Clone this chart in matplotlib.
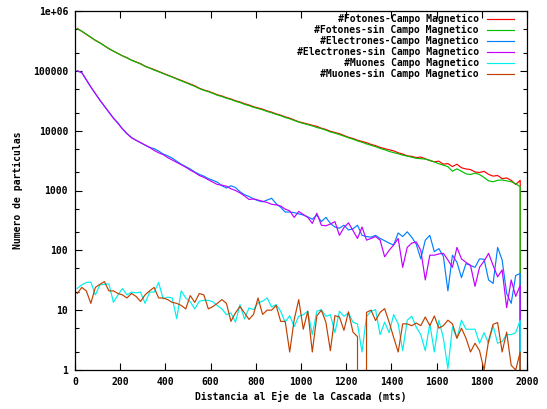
import numpy as np
import matplotlib
matplotlib.use("Agg")
import matplotlib.pyplot as plt
from matplotlib.ticker import FixedLocator, FixedFormatter, NullFormatter
from matplotlib.lines import Line2D

# distancia al eje (mts), centro de cada bin; el ultimo punto vale 0
distancia = list(range(10, 2000, 20))

fotones_campo = [
    513000, 457000, 407000, 363000, 324000, 295000, 263000, 234000, 214000, 195000,
    178000, 166000, 151000, 141000, 132000, 120000, 112000, 105000, 97700, 91200,
    85100, 79400, 74100, 69200, 64600, 60300, 56200, 51300, 47900, 45700,
    42700, 39800, 38000, 35500, 33900, 31600, 30200, 28200, 26900, 25100,
    24000, 22900, 21400, 20400, 19100, 18200, 17000, 16200, 15100, 14100,
    13500, 12900, 12300, 11800, 11000, 10500, 9770, 9330, 8910, 8320,
    7760, 7410, 6920, 6610, 6300, 5890, 5620, 5250, 5010, 4790,
    4600, 4270, 4070, 3800, 3720, 3550, 3630, 3390, 3160, 3020,
    3090, 2750, 2820, 2510, 2750, 2400, 2290, 2240, 2040, 2000,
    2090, 1860, 1740, 1780, 1580, 1620, 1480, 1260, 1480, 0]

fotones_sin_campo = [
    505000, 460000, 410000, 365000, 322000, 292000, 262000, 236000, 213000, 194000,
    178000, 164000, 150000, 140000, 130000, 119000, 111000, 103000, 96500, 90000,
    84000, 78500, 73000, 68000, 63500, 59000, 55000, 50500, 47200, 44800,
    42000, 39000, 37200, 34800, 33200, 31000, 29500, 27500, 26200, 24500,
    23400, 22300, 20900, 19900, 18700, 17800, 16600, 15800, 14800, 13900,
    13200, 12600, 12000, 11300, 10800, 10200, 9500, 9100, 8600, 8100,
    7600, 7200, 6750, 6400, 6000, 5700, 5400, 5050, 4800, 4500,
    4300, 4100, 3900, 3750, 3600, 3450, 3400, 3350, 3200, 3000,
    2800, 2650, 2500, 2100, 2300, 2100, 1900, 1850, 1950, 1850,
    1650, 1450, 1400, 1480, 1500, 1450, 1400, 1300, 1150, 0]

electrones_campo = [
    100000, 93300, 70800, 53700, 41700, 32400, 25700, 20400, 16200, 13500,
    10700, 8910, 7700, 6920, 6310, 5750, 5250, 5010, 4570, 4070,
    3800, 3470, 3090, 2750, 2510, 2290, 2040, 1860, 1740, 1580,
    1480, 1380, 1200, 1100, 1200, 1120, 955, 851, 794, 724,
    676, 646, 692, 741, 603, 525, 437, 437, 427, 407,
    389, 363, 331, 389, 302, 355, 282, 245, 234, 263,
    219, 229, 263, 178, 170, 166, 178, 158, 145, 132,
    123, 195, 170, 204, 166, 126, 72, 148, 178, 95,
    107, 79, 21, 83, 63, 35, 60, 56, 52, 72,
    71, 32, 28, 112, 69, 19, 13, 38, 41, 0]

electrones_sin_campo = [
    100000, 93300, 70800, 53700, 41700, 32400, 25700, 20400, 16200, 13200,
    10700, 8910, 7590, 6920, 6310, 5750, 5250, 4680, 4270, 3980,
    3550, 3240, 2950, 2690, 2450, 2190, 2000, 1780, 1660, 1510,
    1380, 1260, 1230, 1180, 1070, 1000, 912, 813, 708, 724,
    692, 661, 631, 589, 575, 550, 490, 457, 355, 447,
    398, 355, 282, 417, 263, 257, 275, 302, 178, 240,
    288, 214, 158, 245, 148, 158, 170, 148, 78, 100,
    123, 158, 52, 112, 132, 138, 100, 32, 83, 83,
    87, 89, 69, 52, 112, 72, 63, 56, 25, 52,
    66, 89, 56, 36, 47, 11, 32, 17, 26, 0]

muones_campo = [
    23, 26.5, 29, 29.5, 18, 26.5, 27, 27.5, 13.5, 18,
    23, 18, 20, 19.5, 20, 13, 20, 20, 29, 15.5,
    16.5, 16, 7.2, 21, 16, 13.8, 10.5, 14.1, 14.6, 14.6,
    13.8, 11.9, 10.5, 8.4, 9, 6.3, 12.4, 7.1, 10.9, 10.2,
    13.2, 14.1, 16.1, 11.3, 12.4, 9.6, 6.3, 8.1, 5.3, 7.9,
    8.4, 9.6, 3.9, 9.6, 10.2, 7.9, 8.4, 4.2, 9.6, 7.9,
    9, 6.3, 5.9, 2, 7.9, 9.6, 10.2, 3.9, 6.3, 4.2,
    8.4, 5.9, 2.1, 6.8, 7.9, 5.2, 3.9, 2.1, 5.9, 2,
    6.8, 3.4, 1.05, 5.2, 3.4, 6.8, 4.8, 4.8, 4.8, 2.8,
    4.2, 2.8, 5.5, 2.8, 3, 3.9, 3.9, 4.2, 6.8, 0]

muones_sin_campo = [
    19, 24, 21, 13, 24, 27, 30, 21, 21, 19,
    18, 16, 19, 17, 14, 18, 21, 24, 16, 16,
    15, 13.5, 13, 12, 10.5, 17.5, 13.5, 19, 18, 10.5,
    11.5, 13, 15, 13, 6.5, 9, 11.5, 9, 7, 8.5,
    16, 8.5, 10, 10, 12, 6.5, 6.5, 2, 7, 15,
    4.8, 9.6, 2, 8, 10, 6.3, 2.1, 8.1, 7.7, 4.6,
    9.4, 4.3, 3.6, 0, 9.2, 10, 6.7, 9.2, 10.6, 6.3,
    3.5, 2, 5.9, 5.9, 5.5, 6.1, 5.5, 7.7, 5.5, 8,
    5, 5.5, 6.8, 5.9, 3.4, 5, 3.4, 2, 2.8, 2.1,
    1, 3.1, 5.8, 6.2, 2, 4.3, 1.2, 1, 2, 0]

etiquetas = ["#Fotones-Campo Magnetico", "#Fotones-sin Campo Magnetico",
             "#Electrones-Campo Magnetico", "#Electrones-sin Campo Magnetico",
             "#Muones Campo Magnetico", "#Muones-sin Campo Magnetico"]
colores = ["#ff0000", "#00c000", "#0080ff", "#c000ff", "#00eeee", "#c04000"]
series = [fotones_campo, fotones_sin_campo, electrones_campo,
          electrones_sin_campo, muones_campo, muones_sin_campo]

fuente = dict(family=["DejaVu Sans Mono"], weight="bold", size=7)

fig = plt.figure(figsize=(5.47, 4.09), dpi=100)
ax = fig.add_axes([75 / 547, 39 / 409, 452 / 547, 359 / 409])
ax.set_yscale("log", nonpositive="clip")

for datos, color in zip(series, colores):
    ax.plot(distancia, datos, color=color, lw=0.85)

ax.set_xlim(0, 2000)
ax.set_ylim(1, 1e6)

ax.xaxis.set_major_locator(FixedLocator(range(0, 2001, 200)))
ax.set_xticklabels([str(v) for v in range(0, 2001, 200)], **fuente)
decadas = [1, 10, 100, 1000, 10000, 100000, 1000000]
ax.yaxis.set_major_locator(FixedLocator(decadas))
ax.yaxis.set_major_formatter(FixedFormatter(["1", "10", "100", "1000", "10000", "100000", "1e+06"]))
menores = [m * d for d in decadas[:-1] for m in (2, 5)]
ax.yaxis.set_minor_locator(FixedLocator(menores))
ax.yaxis.set_minor_formatter(NullFormatter())
for t in ax.get_yticklabels():
    t.set_fontproperties(matplotlib.font_manager.FontProperties(**fuente))

ax.tick_params(which="both", direction="in", top=True, right=True, width=0.8, pad=5)
ax.tick_params(which="major", length=5)
ax.tick_params(which="minor", length=3)
for s in ax.spines.values():
    s.set_linewidth(0.9)

ax.set_xlabel("Distancia al Eje de la Cascada (mts)", labelpad=3, **fuente)
ax.set_ylabel("Numero de particulas", labelpad=7, **fuente)

# leyenda estilo gnuplot: texto alineado a la derecha y muestra de linea
for i, (texto, color) in enumerate(zip(etiquetas, colores)):
    yy = 1 - (8 + 10.9 * i) / 359
    ax.text(1 - 48 / 452, yy, texto, transform=ax.transAxes, ha="right", va="center", **fuente)
    ax.add_line(Line2D([1 - 40 / 452, 1 - 13 / 452], [yy, yy], transform=ax.transAxes,
                       color=color, lw=0.85))

fig.savefig("out.png", dpi=100)
